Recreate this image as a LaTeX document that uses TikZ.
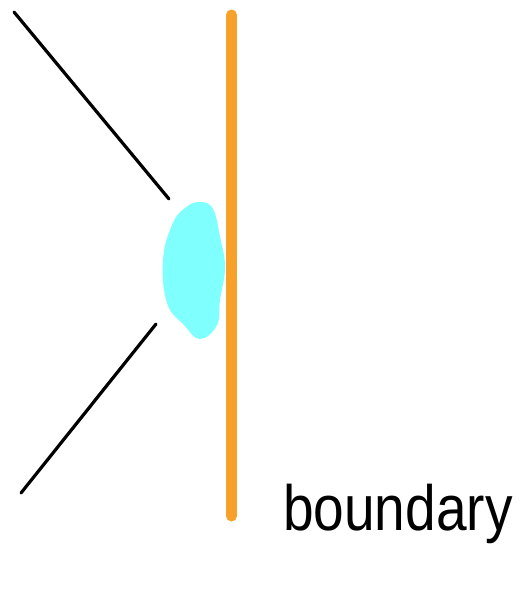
\documentclass[tikz,border=0pt]{standalone}
\usepackage{fontspec}
\setmainfont{Liberation Sans}
\definecolor{wallorange}{HTML}{F7A12A}
\definecolor{blobcyan}{HTML}{80FFFF}
\begin{document}
\begin{tikzpicture}[x=1pt,y=-1pt,
  ray/.style={line width=3.2pt,line cap=round,black},
  wall/.style={line width=11pt,line cap=round,wallorange},
  label/.style={anchor=base west,inner sep=0pt,font=\fontsize{64}{64}\selectfont,xscale=0.86}]
\useasboundingbox (0,0) rectangle (521,597);
\coordinate (a1) at (14,12);
\coordinate (a2) at (169,199);
\coordinate (b1) at (156,324);
\coordinate (b2) at (21,493);
\coordinate (w1) at (231.5,15);
\coordinate (w2) at (231.5,516);
\draw[ray] (a1) -- (a2);
\draw[ray] (b1) -- (b2);
\fill[blobcyan] plot[smooth cycle,tension=0.7] coordinates {
  (200,202) (213,209) (220,237) (225,267) (220,300) (217,325)
  (200,339) (184,325) (167,303) (163,260) (172,225) (185,208)};
\draw[wall] (w1) -- (w2);
\node[label] (lbl) at (283,530) {boundary};
\end{tikzpicture}
\end{document}
